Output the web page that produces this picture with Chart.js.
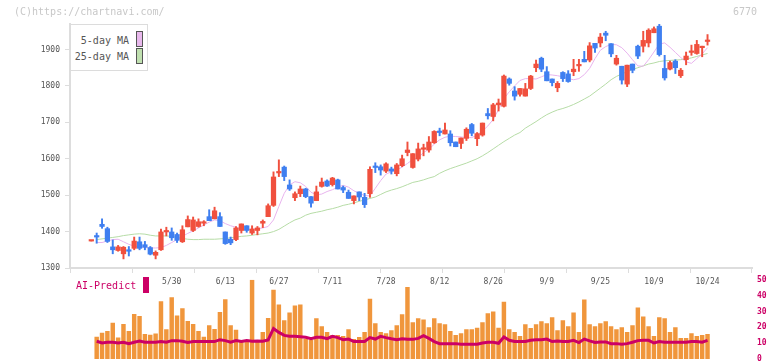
<!DOCTYPE html>
<html>
<head>
<meta charset="utf-8">
<script src="https://cdn.jsdelivr.net/npm/chart.js@4"></script>
<style>
  body { margin: 0; width: 772px; height: 361px; overflow: hidden; background: #fff; position: relative; font-family: "DejaVu Sans Mono", monospace; }
  canvas { position: absolute; left: 0; }
  #main { top: 0; }
  #vol { top: 270px; }
  .txt { position: absolute; font-size: 10px; line-height: 12px; white-space: nowrap; }
  .sw { position: absolute; width: 7px; height: 16px; box-sizing: border-box; border: 1px solid #555; }
</style>
</head>
<body>
<canvas id="main" width="772" height="300"></canvas>
<canvas id="vol" width="772" height="100"></canvas>

<div class="txt" style="left:14px;top:6px;color:#c8c8c8">(C)https://chartnavi.com/</div>
<div class="txt" style="left:733px;top:6px;color:#c8c8c8">6770</div>

<div style="position:absolute;left:70px;top:24px;width:78px;height:47px;box-sizing:border-box;border:1px solid #dcdcdc;background:#fff"></div>
<div class="txt" style="right:643px;top:35px;color:#555">5-day MA</div>
<div class="txt" style="right:643px;top:51px;color:#555">25-day MA</div>
<div class="sw" style="left:136px;top:31px;background:#e8b8ec"></div>
<div class="sw" style="left:136px;top:48px;background:#c0e0b0"></div>

<div class="txt" style="left:76px;top:280px;color:#cc0066">AI-Predict</div>
<div style="position:absolute;left:143px;top:277px;width:6px;height:16px;background:#cc0066"></div>

<script>
// candles (one per trading day)
const openP = [1374,1388,1420,1408,1358,1348,1339,1348,1354,1372,
  1364,1356,1335,1350,1399,1399,1392,1372,1413,1403,
  1414,1423,1441,1435,1441,1399,1379,1378,1403,1416,
  1396,1403,1423,1441,1472,1561,1577,1528,1493,1504,
  1517,1496,1485,1524,1539,1529,1542,1521,1508,1485,
  1509,1494,1504,1580,1578,1566,1572,1559,1581,1617,
  1576,1599,1626,1624,1644,1676,1668,1668,1646,1642,
  1656,1694,1655,1665,1724,1716,1748,1744,1819,1786,
  1777,1772,1793,1850,1876,1839,1819,1795,1837,1833,
  1839,1855,1873,1871,1917,1918,1945,1916,1860,1854,
  1805,1860,1909,1909,1918,1946,1964,1848,1846,1868,
  1828,1872,1892,1889,1905,1922];
const highP = [1374,1396,1435,1412,1377,1362,1359,1359,1385,1385,
  1373,1359,1347,1407,1412,1410,1396,1416,1443,1440,
  1435,1430,1460,1467,1452,1399,1385,1414,1421,1416,
  1416,1414,1432,1476,1564,1597,1580,1542,1509,1525,
  1519,1496,1525,1547,1542,1549,1544,1525,1514,1498,
  1509,1505,1578,1589,1583,1589,1577,1587,1610,1646,
  1614,1643,1640,1661,1677,1684,1698,1677,1646,1657,
  1685,1697,1672,1698,1738,1752,1764,1830,1822,1798,
  1793,1807,1829,1871,1879,1853,1819,1812,1839,1842,
  1873,1873,1895,1919,1917,1944,1950,1916,1884,1854,
  1857,1860,1912,1950,1957,1962,1969,1884,1868,1872,
  1848,1893,1912,1925,1909,1941];
const lowP = [1374,1368,1409,1370,1339,1346,1325,1333,1350,1350,
  1350,1336,1325,1348,1388,1376,1370,1370,1413,1400,
  1412,1416,1430,1435,1414,1365,1364,1375,1396,1398,
  1392,1391,1411,1441,1469,1551,1540,1513,1485,1496,
  1493,1467,1485,1522,1524,1525,1517,1507,1491,1476,
  1485,1466,1494,1562,1555,1562,1558,1553,1578,1608,
  1574,1594,1608,1618,1642,1663,1668,1635,1633,1628,
  1650,1663,1636,1662,1709,1704,1731,1742,1802,1761,
  1772,1772,1790,1839,1839,1814,1800,1784,1812,1810,
  1828,1840,1866,1866,1892,1907,1924,1880,1857,1805,
  1798,1836,1875,1893,1907,1946,1882,1816,1844,1834,
  1823,1858,1884,1887,1880,1912];
const closeP = [1374,1385,1414,1373,1350,1358,1357,1346,1374,1354,
  1357,1338,1343,1399,1402,1383,1376,1405,1433,1432,
  1427,1427,1430,1457,1414,1367,1369,1410,1421,1403,
  1407,1410,1428,1471,1550,1565,1551,1517,1504,1517,
  1496,1478,1509,1536,1525,1547,1517,1514,1491,1498,
  1495,1474,1571,1576,1569,1586,1566,1583,1600,1624,
  1614,1627,1630,1646,1675,1672,1679,1644,1633,1657,
  1681,1670,1669,1698,1718,1748,1753,1827,1807,1772,
  1793,1792,1827,1860,1846,1814,1809,1807,1820,1812,
  1846,1859,1866,1910,1904,1934,1939,1888,1876,1816,
  1857,1843,1882,1925,1953,1957,1886,1822,1864,1850,
  1843,1882,1895,1914,1909,1925];

// moving averages
const ma5 = [null,1370,1370,1374,1378,1379,1372,1365,1360,1358,
  1356,1355,1355,1356,1362,1370,1378,1387,1395,1402,
  1410,1418,1426,1432,1430,1422,1416,1412,1407,1405,
  1407,1408,1410,1414,1432,1469,1505,1528,1537,1534,
  1524,1508,1501,1503,1510,1515,1522,1527,1522,1512,
  1505,1499,1498,1519,1540,1558,1564,1569,1577,1587,
  1598,1603,1617,1626,1640,1652,1659,1662,1661,1660,
  1658,1658,1665,1676,1690,1708,1735,1765,1784,1800,
  1815,1820,1820,1819,1825,1831,1830,1828,1825,1820,
  1817,1820,1831,1848,1875,1898,1908,1914,1913,1905,
  1890,1872,1855,1854,1872,1893,1915,1918,1906,1892,
  1878,1866,1862,1875,1888,1905];
const ma25 = [null,1378,1380,1382,1384,1386,1389,1391,1393,1394,
  1393,1390,1388,1388,1388,1387,1384,1381,1379,1378,
  1378,1379,1379,1379,1380,1381,1383,1385,1387,1388,
  1390,1392,1394,1396,1400,1406,1415,1424,1432,1437,
  1445,1450,1453,1456,1460,1463,1467,1472,1475,1479,
  1483,1487,1491,1495,1502,1509,1514,1518,1523,1529,
  1535,1538,1542,1547,1551,1560,1567,1573,1578,1583,
  1588,1594,1600,1608,1617,1627,1637,1647,1656,1665,
  1672,1684,1693,1702,1712,1721,1728,1734,1738,1743,
  1749,1756,1764,1772,1783,1794,1805,1817,1826,1833,
  1839,1845,1850,1855,1860,1863,1867,1869,1870,1871,
  1872,1874,1877,1881,1885,1889];

// lower panel
const volume = [null,13.9,16.4,17.4,22.6,13.3,21.9,17.4,28.2,26.9,
  15.5,15.1,15.9,36.2,18.6,38.7,27.3,31.9,23.8,21.9,
  17.4,13.9,21.1,18.8,29.4,37.5,21.1,18.2,10.8,10.8,
  49.9,10.8,16.8,25.7,43.5,34.2,24.2,29.2,33.5,34.2,
  12.6,11.8,25.5,20.5,16.8,14.9,14.9,14.3,18.6,12.4,
  13.7,16.8,37.9,22.4,16.8,16.1,18.0,21.1,28.0,45.3,
  23.0,25.5,24.8,19.9,25.5,22.4,21.7,17.4,14.9,16.1,
  18.6,18.6,19.5,23.0,28.6,29.8,19.5,36.0,18.6,16.8,
  14.3,21.7,19.3,21.7,23.6,22.4,26.1,18.0,24.2,20.5,
  29.2,16.8,37.3,21.7,20.5,22.4,23.6,20.5,18.6,19.9,
  16.8,21.1,32.3,26.7,20.5,14.3,26.1,25.5,16.8,19.9,
  13.0,13.0,16.1,14.3,14.9,15.5];
const aiPredict = [null,11.2,10.1,10.6,10.6,10.1,10.6,9.7,10.6,11.4,
  10.6,10.6,10.6,11.0,10.6,11.6,11.6,11.2,10.4,11.0,
  11.0,11.0,11.0,11.0,12.2,11.6,10.6,11.6,11.0,11.6,
  11.2,11.4,11.2,12.0,19.3,16.8,14.9,14.3,14.3,14.1,
  13.7,12.8,13.7,13.7,12.8,14.3,13.5,12.2,12.6,11.0,
  11.0,11.0,13.5,12.6,14.3,13.5,12.8,12.2,12.8,12.4,
  12.4,13.0,14.7,13.0,11.0,9.7,9.7,9.7,9.7,9.3,
  9.3,9.3,9.3,10.1,10.6,10.6,9.9,13.9,11.8,11.0,
  11.0,11.0,11.8,12.2,12.2,12.6,11.0,11.4,11.0,11.0,
  11.8,10.4,12.6,11.4,10.4,10.8,10.8,9.7,9.7,9.3,
  9.7,10.6,11.6,11.8,11.8,10.1,11.0,10.6,10.6,10.6,
  10.6,10.6,11.0,11.0,10.6,11.8];

// axis labels
const dateIdx = [15, 25, 35, 45, 55, 65, 75, 85, 95, 105, 115];
const dateLabels = ["5/30", "6/13", "6/27", "7/11", "7/28", "8/12", "8/26", "9/9", "9/25", "10/9", "10/24"];
const yTicks = [1300, 1400, 1500, 1600, 1700, 1800, 1900];
const volTicks = [0, 10, 20, 30, 40, 50];

const xMin = -3.98, xMax = 123.3;
const UP = "#f0503e", DOWN = "#3f7ff0";
const candleColors = closeP.map((c, i) => (c >= openP[i] ? UP : DOWN));
const mono = "DejaVu Sans Mono";

const pts = (arr) => arr.map((v, i) => ({ x: i, y: v }));

const dateLabelPlugin = {
  id: "dateLabels",
  afterDraw(chart) {
    const ctx = chart.ctx, xs = chart.scales.x;
    ctx.save();
    ctx.font = "8px '" + mono + "'";
    ctx.fillStyle = "#555";
    ctx.textAlign = "center";
    ctx.textBaseline = "middle";
    dateIdx.forEach((v, k) => ctx.fillText(dateLabels[k], xs.getPixelForValue(v), 282));
    ctx.restore();
  },
};

new Chart(document.getElementById("main"), {
  type: "bar",
  data: {
    datasets: [
      { type: "line", label: "5-day MA", data: pts(ma5), borderColor: "#e8b4ee", borderWidth: 1, pointRadius: 0, order: 3 },
      { type: "line", label: "25-day MA", data: pts(ma25), borderColor: "#b6dca6", borderWidth: 1, pointRadius: 0, order: 3 },
      {
        label: "wick",
        data: lowP.map((v, i) => ({ x: i, y: [v, highP[i]] })),
        backgroundColor: candleColors,
        barThickness: 1.3,
        grouped: false,
        order: 2,
      },
      {
        label: "body",
        data: openP.map((v, i) => ({ x: i, y: [Math.min(v, closeP[i]), Math.max(v, closeP[i])] })),
        backgroundColor: candleColors,
        barThickness: 4.6,
        minBarLength: 1.5,
        grouped: false,
        order: 1,
      },
    ],
  },
  options: {
    animation: false,
    responsive: false,
    devicePixelRatio: 1,
    layout: { padding: { top: 24, right: 20, left: 0, bottom: 0 } },
    plugins: { legend: { display: false }, tooltip: { enabled: false } },
    scales: {
      x: {
        type: "linear",
        min: xMin,
        max: xMax,
        offset: false,
        afterBuildTicks: (s) => {
          s.ticks = [];
          for (let k = 0; k <= 11; k++) s.ticks.push({ value: xMin + (k * (xMax - xMin)) / 11 });
        },
        ticks: { display: false },
        grid: { drawOnChartArea: false, drawTicks: true, tickLength: 5, color: "#dddddd", offset: false },
        border: { display: true, color: "#dddddd", width: 2 },
        afterFit: (s) => { s.height = 32; },
      },
      y: {
        type: "linear",
        min: 1300,
        max: 1970,
        afterBuildTicks: (s) => { s.ticks = yTicks.map((v) => ({ value: v })); },
        ticks: { font: { family: mono, size: 8 }, color: "#555", padding: 5, callback: (v) => String(v) },
        grid: { drawOnChartArea: false, tickLength: 5, color: "#dddddd" },
        border: { display: true, color: "#dddddd", width: 2 },
        afterFit: (s) => { s.width = 70; },
      },
    },
  },
  plugins: [dateLabelPlugin],
});

new Chart(document.getElementById("vol"), {
  type: "bar",
  data: {
    datasets: [
      { type: "line", label: "AI-Predict", data: pts(aiPredict), borderColor: "#cc0066", borderWidth: 3, pointRadius: 0, order: 1 },
      { label: "volume", data: pts(volume), backgroundColor: "#f0963c", barThickness: 3.8, grouped: false, order: 2 },
    ],
  },
  options: {
    animation: false,
    responsive: false,
    devicePixelRatio: 1,
    layout: { padding: { top: 8, right: 0, left: 70, bottom: 11 } },
    plugins: { legend: { display: false }, tooltip: { enabled: false } },
    scales: {
      x: { type: "linear", min: xMin, max: xMax, offset: false, display: false },
      y: {
        position: "right",
        min: 0,
        max: 50,
        afterBuildTicks: (s) => { s.ticks = volTicks.map((v) => ({ value: v })); },
        ticks: { font: { family: mono, size: 8, weight: "bold" }, color: "#cc0066", padding: 5 },
        grid: { display: false, drawTicks: false },
        border: { display: false },
        afterFit: (s) => { s.width = 20; },
      },
    },
  },
});
</script>
</body>
</html>
